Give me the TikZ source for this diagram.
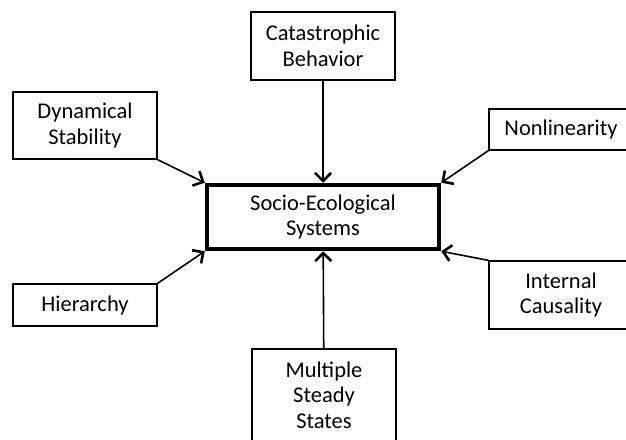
\documentclass[tikz,border=0pt]{standalone}
\usepackage{fontspec}
\setmainfont{Carlito}
\usepackage{tikz}
\usetikzlibrary{arrows.meta,positioning}

\begin{document}
\begin{tikzpicture}[x=1pt,y=-1pt,
    box/.style={draw, line width=1.3pt, align=center, inner sep=0pt,
      minimum width=144pt, font=\fontsize{22.5}{25.5}\selectfont},
    mainbox/.style={draw, line width=4.5pt, align=center, inner sep=0pt,
      minimum width=232pt, minimum height=64pt, font=\fontsize{22.5}{25.5}\selectfont},
    link/.style={line width=1.6pt, -{Straight Barb[length=8pt,width=16pt,line width=2.6pt]}}]
        \clip (0,0) rectangle (626,439);
        % --- centre ---
        \node[mainbox] (ses) at (323,217) {Socio-Ecological\\Systems};
        % --- boxes round it ---
        \node[box, minimum height=68pt] (cat) at (323,46) {Catastrophic\\Behavior};
        \node[box, minimum height=67pt] (dyn) at (85,125.5) {Dynamical\\Stability};
        \node[box, minimum height=41pt] (nonlin) at (561,129.5) {Nonlinearity};
        \node[box, minimum height=42pt] (hier) at (85,305) {Hierarchy};
        \node[box, minimum height=68pt] (intc) at (561,295) {Internal\\Causality};
        \node[box, minimum height=92pt] (mss) at (324,395) {Multiple\\Steady\\States};
        % Connections
        \draw[link] (cat) -- (ses);
        \draw[link] (dyn.south east) -- (ses.north west);
        \draw[link] (nonlin.south west) -- (ses.north east);
        \draw[link] (hier.north east) -- (ses.south west);
        \draw[link] (intc.north west) -- (ses.south east);
        \draw[link] (mss) -- (ses);
      \end{tikzpicture}
\end{document}
